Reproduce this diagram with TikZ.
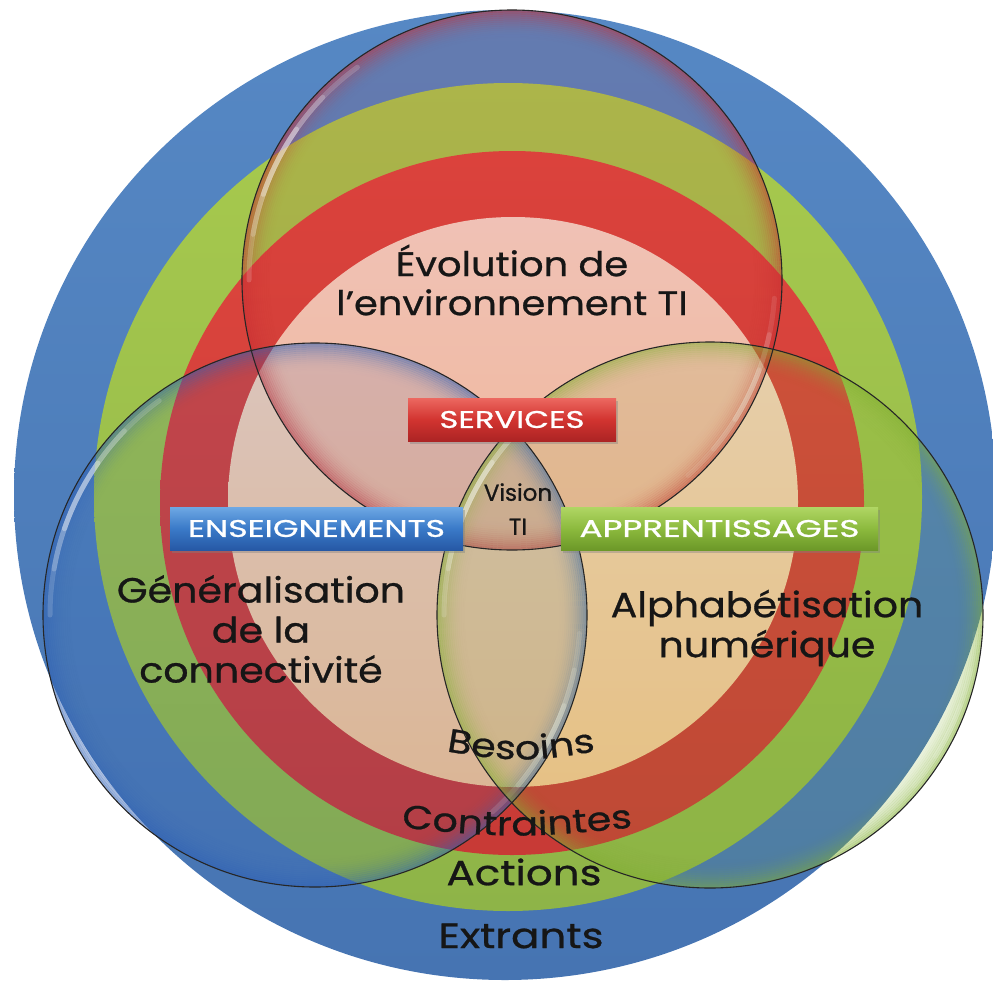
\documentclass[tikz,border=0pt]{standalone}
\usepackage{fontspec}
\usepackage{graphicx}
\setmainfont{Poppins}
\newfontfamily\kfont{Poppins}[FakeBold=0.8]
\newfontfamily\kmid{Poppins}[FakeStretch=1.13, FakeBold=0.8]
\newfontfamily\kwide{Poppins}[FakeStretch=1.2, FakeBold=0.8]
\usetikzlibrary{calc,shadows,decorations.text}
\definecolor{ringblueA}{RGB}{86,136,196}
\definecolor{ringblueB}{RGB}{70,116,178}
\definecolor{ringgreenA}{RGB}{168,202,78}
\definecolor{ringgreenB}{RGB}{142,180,72}
\definecolor{ringredA}{RGB}{222,70,62}
\definecolor{ringredB}{RGB}{200,58,54}
\definecolor{peachA}{RGB}{246,216,202}
\definecolor{peachB}{RGB}{246,196,146}
\definecolor{tintred}{RGB}{200,45,50}
\definecolor{tintblue}{RGB}{45,95,180}
\definecolor{tintgreen}{RGB}{130,175,50}
\definecolor{inkc}{RGB}{22,22,22}
\definecolor{srvA}{RGB}{236,104,96}
\definecolor{srvM}{RGB}{210,52,48}
\definecolor{srvB}{RGB}{172,36,36}
\definecolor{ensA}{RGB}{110,168,228}
\definecolor{ensM}{RGB}{58,122,200}
\definecolor{ensB}{RGB}{38,88,165}
\definecolor{appA}{RGB}{176,214,100}
\definecolor{appM}{RGB}{140,186,62}
\definecolor{appB}{RGB}{108,152,40}

\newcommand{\glassdisc}[4]{%
  \fill[#3, fill opacity=0.13] (#1) circle (#2);
  \foreach \gk in {0,...,13}{%
    \pgfmathsetmacro{\gop}{0.45*(1-\gk/14)^2}%
    \pgfmathsetmacro{\grr}{#2-1-2*\gk}%
    \draw[#3, line width=2.2pt, draw opacity=\gop] (#1) circle (\grr);
  }%
  \begin{scope}[shift={(#1)}]
    \pgfmathsetmacro{\grh}{#2-7}%
    \foreach \ga/\gb/\gop in {-180/-126/0.16, -170/-136/0.2, -161/-145/0.3}{%
      \draw[white, line width=5pt, draw opacity=\gop, line cap=round] (\ga:\grh) arc[start angle=\ga, end angle=\gb, radius=\grh];
    }%
    \foreach \ga/\gb/\gop in {4/48/0.1, 12/40/0.14, 20/32/0.2}{%
      \pgfmathsetmacro{\gsc}{\gop*#4}%
      \draw[white, line width=5pt, draw opacity=\gsc, line cap=round] (\ga:\grh) arc[start angle=\ga, end angle=\gb, radius=\grh];
    }%
  \end{scope}
}

\tikzset{
  bigtext/.style={text=inkc, align=center, inner sep=0pt, font=\kmid\fontsize{35}{40}\selectfont},
  toptext/.style={text=inkc, align=center, inner sep=0pt, font=\kmid\fontsize{34}{39}\selectfont},
  ringtext/.style={text=inkc, inner sep=0pt, font=\kwide\fontsize{35}{40}\selectfont},
  smalltext/.style={text=inkc, align=center, inner sep=0pt, font=\kfont\fontsize{23}{34}\selectfont},
  tagbox/.style={rectangle, minimum height=43pt, inner sep=0pt, text=white, font=\kfont,
    drop shadow={shadow xshift=2pt, shadow yshift=-3pt, opacity=0.4}},
  glassline/.style={draw=black!85, line width=1.1pt},
  arctext/.style={decorate, decoration={text along path, text align=center, text color=inkc}}
}

\begin{document}
\begin{tikzpicture}[x=1pt,y=-1pt]
\useasboundingbox (0,0) rectangle (993,980);
\begin{scope}
  \clip (0,0) rectangle (993,980);
  \coordinate (cbig) at (505,495);
  \coordinate (cgreen) at (508,497);
  \coordinate (cred) at (512,503);
  \coordinate (cpeach) at (513,502);
  \shade[top color=ringblueA, bottom color=ringblueB] (cbig) ellipse [x radius=491, y radius=485];
  \shade[top color=ringgreenA, bottom color=ringgreenB] (cgreen) circle (414);
  \shade[top color=ringredA, bottom color=ringredB] (cred) circle (352);
  \shade[top color=peachA, bottom color=peachB] (cpeach) circle (285);

  \coordinate (ctop) at (512,280);
  \coordinate (cleft) at (315,615);
  \coordinate (cright) at (710,615);
  \glassdisc{ctop}{270}{tintred}{1}
  \glassdisc{cleft}{272}{tintblue}{1.3}
  \glassdisc{cright}{273}{tintgreen}{0.5}
  \draw[glassline] (ctop) circle (270);
  \draw[glassline] (cleft) circle (272);
  \draw[glassline] (cright) circle (273);
\end{scope}

% big labels
\node[toptext] (evol) at (512,280) {Évolution de\\l’environnement TI};
\node[bigtext] (gener) at (261,629) {Généralisation\\de la\\connectivité};
\node[bigtext] (alpha) at (767,628) {Alphabétisation\\numérique};
\node[smalltext] (vision) at (518,509) {Vision\\TI};

% ring labels
\coordinate (besA) at (400,743);
\coordinate (besC) at (521,765);
\coordinate (besB) at (642,743);
\path[arctext, decoration={text={|\kwide\fontsize{33}{38}\selectfont|Besoins}}] (besA) .. controls (besC) .. (besB);
\coordinate (conA) at (350,822);
\coordinate (conC) at (517,840);
\coordinate (conB) at (684,822);
\path[arctext, decoration={text={|\kwide\fontsize{33}{38}\selectfont|Contraintes}}] (conA) .. controls (conC) .. (conB);
\node[ringtext] (actions) at (524,872) {Actions};
\node[ringtext] (extrants) at (521,936) {Extrants};

% tag boxes
\node[tagbox, minimum width=208pt, top color=srvA, bottom color=srvB, middle color=srvM] (services) at (512,419.5) {\resizebox{145pt}{17pt}{SERVICES}};
\node[tagbox, minimum width=293pt, top color=ensA, bottom color=ensB, middle color=ensM] (enseign) at (316.5,528.5) {\resizebox{257pt}{17pt}{ENSEIGNEMENTS}};
\node[tagbox, minimum width=317pt, top color=appA, bottom color=appB, middle color=appM] (apprent) at (719.5,528.5) {\resizebox{280pt}{17pt}{APPRENTISSAGES}};
\end{tikzpicture}
\end{document}
